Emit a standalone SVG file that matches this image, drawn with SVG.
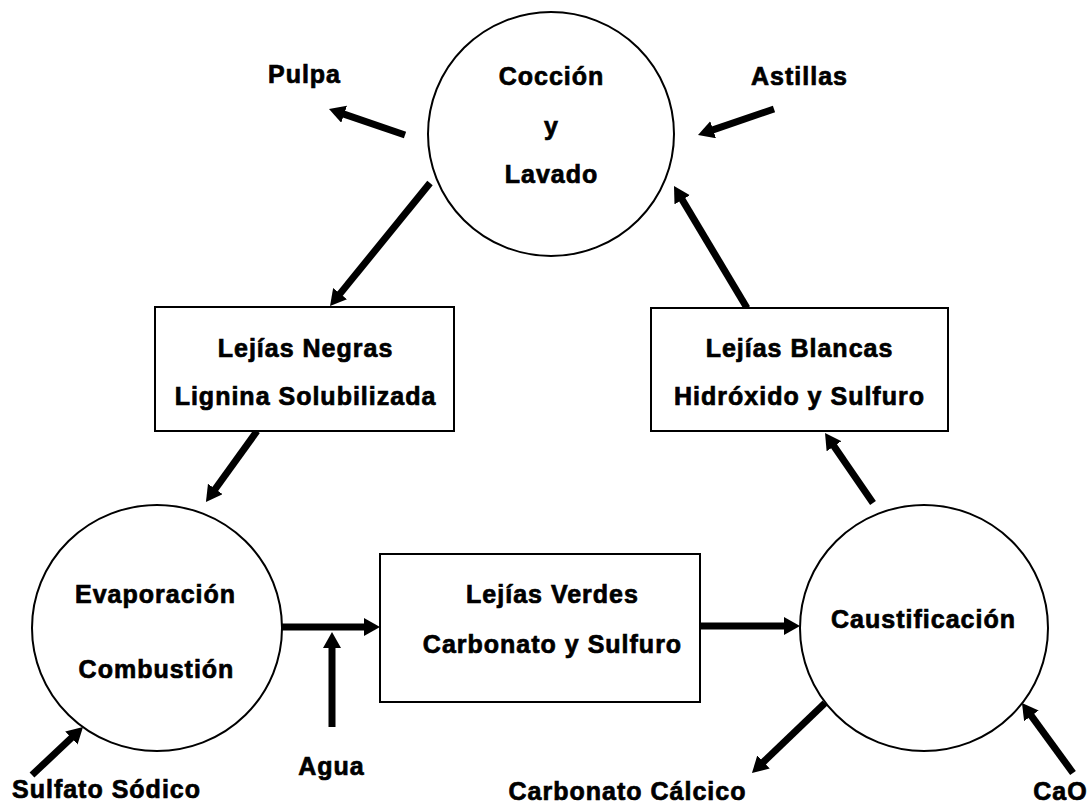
<svg xmlns="http://www.w3.org/2000/svg" width="1092" height="805" viewBox="0 0 1092 805">
<style>
.node{fill:#fff;stroke:#000;stroke-width:2}
.t{font-family:"Liberation Sans",Arial,sans-serif;font-weight:bold;font-size:25px;letter-spacing:1px;text-anchor:middle;fill:#000;stroke:#000;stroke-width:0.7}
.c{stroke:#000;stroke-width:7;fill:none;marker-end:url(#ah)}
</style>
<defs>
<marker id="ah" markerUnits="userSpaceOnUse" markerWidth="18" markerHeight="20" refX="1" refY="9" orient="auto">
<path d="M0,0 L16,9 L0,18 z" fill="#000"/>
</marker>
</defs>
<rect width="1092" height="805" fill="#fff"/>
<g id="connectors">
<line class="c" x1="405" y1="135" x2="343.2" y2="113.9"/>
<line class="c" x1="774" y1="109" x2="712.2" y2="130.1"/>
<line class="c" x1="430" y1="183" x2="339.5" y2="294.4"/>
<line class="c" x1="257" y1="431" x2="214.7" y2="489.8"/>
<line class="c" x1="282" y1="627" x2="365" y2="627"/>
<line class="c" x1="332" y1="727" x2="332" y2="647"/>
<line class="c" x1="700" y1="626" x2="785" y2="626"/>
<line class="c" x1="873" y1="503" x2="833.5" y2="445.4"/>
<line class="c" x1="747" y1="308" x2="681.7" y2="198.9"/>
<line class="c" x1="32" y1="775" x2="72.1" y2="737.3"/>
<line class="c" x1="825" y1="703" x2="762.8" y2="762.6"/>
<line class="c" x1="1073" y1="773" x2="1030.8" y2="715.1"/>
</g>
<g id="coccion">
<ellipse class="node" cx="551" cy="134" rx="123" ry="122"/>
<text class="t" x="551.5" y="85">Cocción</text>
<text class="t" x="551.5" y="135">y</text>
<text class="t" x="551.5" y="183">Lavado</text>
</g>
<g id="lejias-negras">
<rect class="node" x="155" y="307" width="299" height="124"/>
<text class="t" x="305.5" y="357">Lejías Negras</text>
<text class="t" x="305.5" y="405">Lignina Solubilizada</text>
</g>
<g id="lejias-blancas">
<rect class="node" x="651" y="308" width="297" height="123"/>
<text class="t" x="799.5" y="357">Lejías Blancas</text>
<text class="t" x="799.5" y="405">Hidróxido y Sulfuro</text>
</g>
<g id="evaporacion">
<ellipse class="node" cx="157" cy="628" rx="125" ry="123"/>
<text class="t" x="155.5" y="603">Evaporación</text>
<text class="t" x="156.5" y="678">Combustión</text>
</g>
<g id="lejias-verdes">
<rect class="node" x="380" y="554" width="320" height="148"/>
<text class="t" x="552.5" y="603">Lejías Verdes</text>
<text class="t" x="552.5" y="653">Carbonato y Sulfuro</text>
</g>
<g id="caustificacion">
<ellipse class="node" cx="924" cy="628" rx="124" ry="123"/>
<text class="t" x="923.5" y="628">Caustificación</text>
</g>
<g id="pulpa"><text class="t" x="304.5" y="83">Pulpa</text></g>
<g id="astillas"><text class="t" x="799.5" y="85">Astillas</text></g>
<g id="agua"><text class="t" x="331.5" y="775">Agua</text></g>
<g id="sulfato"><text class="t" x="106.5" y="798">Sulfato Sódico</text></g>
<g id="carbonato-calcico"><text class="t" x="627.5" y="800">Carbonato Cálcico</text></g>
<g id="cao"><text class="t" x="1060.5" y="800">CaO</text></g>
</svg>
